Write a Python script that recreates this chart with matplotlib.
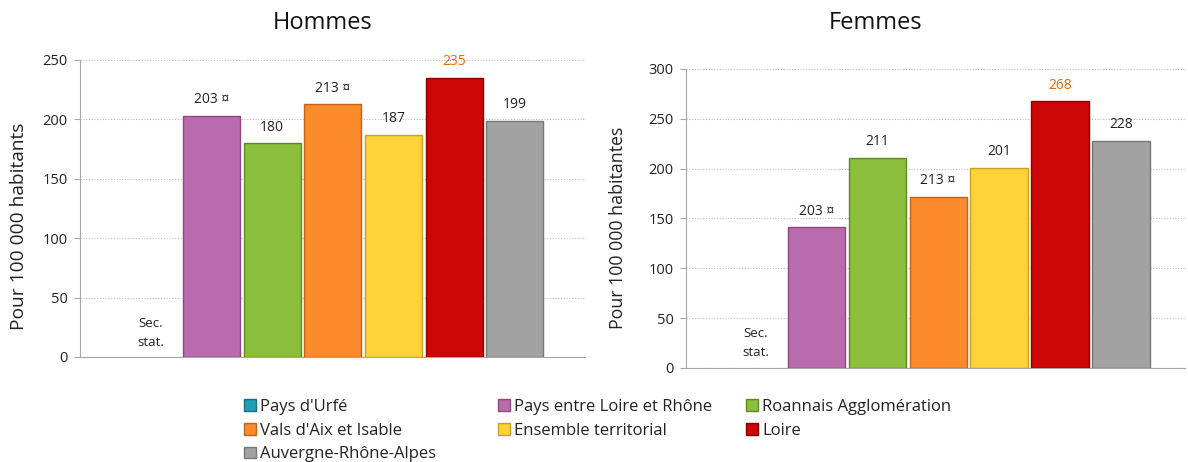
import numpy as np
import matplotlib.pyplot as plt
from matplotlib.patches import Patch

plt.rcParams['font.family'] = ['Open Sans', 'DejaVu Sans']

territoires = ["Pays d'Urfé", "Pays entre Loire et Rhône", "Roannais Agglomération",
               "Vals d'Aix et Isable", "Ensemble territorial", "Loire",
               "Auvergne-Rhône-Alpes"]
couleurs = ['#1F9FB3', '#B96BAD', '#8BBE3A', '#FB8A2B', '#FFD23A', '#CC0606', '#A2A2A2']
bords = ['#157080', '#8A4A80', '#5F8A22', '#C0651A', '#C9A020', '#8E0000', '#777777']

# Pays d'Urfé : secret statistique (pas de barre)
hommes = [np.nan, 203, 180, 213, 187, 235, 199]
hommes_lbl = ['', '203 ¤', '180', '213 ¤', '187', '235', '199']
femmes = [np.nan, 141, 211, 172, 201, 268, 228]
femmes_lbl = ['', '203 ¤', '211', '213 ¤', '201', '268', '228']


def panneau(ax, vals, lbls, ymax, ylabel, ylab_size, xlim, sec_y, lab_xy):
    x = np.arange(len(vals))
    ax.bar(x, vals, width=0.94, color=couleurs, edgecolor=bords, linewidth=1.0, zorder=3)
    for i, (v, t) in enumerate(zip(vals, lbls)):
        if np.isnan(v):
            ax.text(i, sec_y, 'Sec.\nstat.', ha='center', va='center', fontsize=9.5,
                    color='#222222', linespacing=1.55)
            continue
        c = '#E36C09' if territoires[i] == 'Loire' else '#222222'
        ax.annotate(t, (i, v), xytext=(0, 6), textcoords='offset points',
                    ha='center', va='bottom', fontsize=10, color=c)
    ax.set_xlim(*xlim)
    ax.set_ylim(0, ymax)
    ax.set_yticks(np.arange(0, ymax + 1, 50))
    ax.set_xticks([])
    ax.grid(axis='y', color='#BBBBBB', linestyle=(0, (1, 1.5)), linewidth=0.8, zorder=0)
    for s in ['top', 'right']:
        ax.spines[s].set_visible(False)
    for s in ['left', 'bottom']:
        ax.spines[s].set_color('#A6A6A6')
    ax.tick_params(axis='y', length=4, color='#A6A6A6', labelsize=10.5,
                   labelcolor='#222222', pad=5)
    ax.set_ylabel(ylabel, fontsize=ylab_size, color='#222222')
    ax.yaxis.set_label_coords(*lab_xy)


fig = plt.figure(figsize=(11.88, 4.62), dpi=100)
ax1 = fig.add_axes([0.0673, 0.2273, 0.4251, 0.6429])
ax2 = fig.add_axes([0.5774, 0.2035, 0.4200, 0.6472])

panneau(ax1, hommes, hommes_lbl, 250, 'Pour 100 000 habitants', 13.8,
        (-1.17, 7.16), 20, (-0.103, 0.44))
panneau(ax2, femmes, femmes_lbl, 300, 'Pour 100 000 habitantes', 12.8,
        (-1.14, 7.05), 25, (-0.118, 0.47))

fig.text(323 / 1188, 1 - 23 / 462, 'Hommes', ha='center', va='center', fontsize=17, color='#111111')
fig.text(876 / 1188, 1 - 23 / 462, 'Femmes', ha='center', va='center', fontsize=17, color='#111111')

# legende : trois colonnes placees separement
colonnes = [([0, 3, 6], 244), ([1, 4], 498), ([2, 5], 746)]
for idx, x0 in colonnes:
    handles = [Patch(facecolor=couleurs[i], edgecolor=bords[i], label=territoires[i]) for i in idx]
    fig.legend(handles=handles, loc='upper left', bbox_to_anchor=(x0 / 1188, 1 - 399 / 462),
               frameon=False, fontsize=12, handlelength=0.72, handleheight=0.72,
               handletextpad=0.25, labelspacing=0.46, borderpad=0, borderaxespad=0,
               labelcolor='#222222')

fig.savefig('out.png', dpi=100)
